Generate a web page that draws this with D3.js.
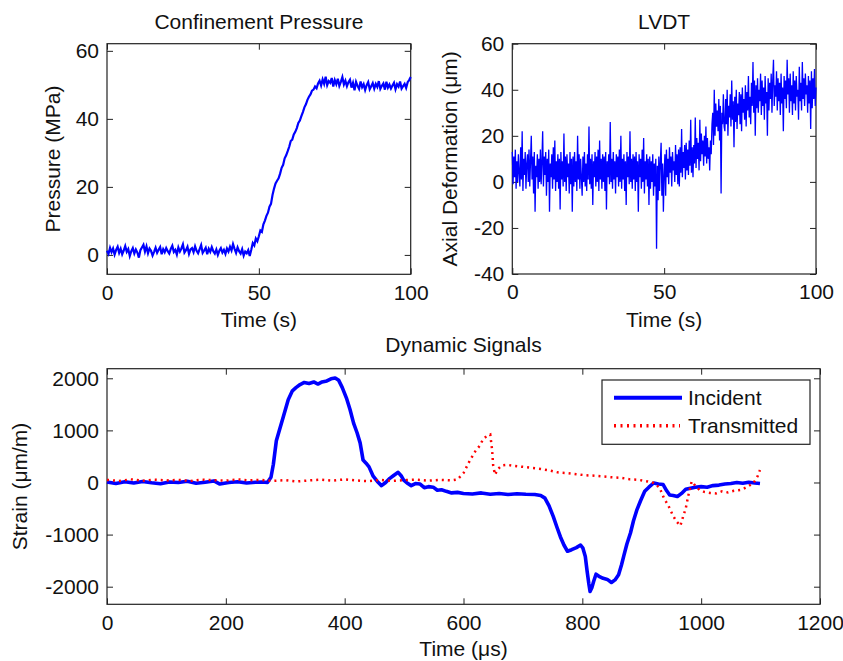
<!DOCTYPE html>
<html>
<head>
<meta charset="utf-8">
<script src="https://cdn.jsdelivr.net/npm/d3@7"></script>
<style>
  body { margin: 0; background: #fff; }
  text { font-family: "Liberation Sans", Arial, sans-serif; fill: #111; }
</style>
</head>
<body>
<div id="chart"></div>
<script>
// pressure sampled every 0.5 s, LVDT every 0.25 s (0..100 s)
const pressureStep = 0.5;
const lvdtStep = 0.25;
const pressure = [
  1.2,0.3,2.1,0.8,1.9,0.1,1.5,2.4,0.6,1.8,0.2,1.3,2.6,0.9,1.7,-0.3,1.1,2.0,0.4,1.6,0.7,
  -0.8,1.4,2.2,3.0,1.0,2.5,0.5,1.9,1.2,-0.2,0.9,2.1,0.6,1.5,2.3,0.2,1.7,0.8,2.0,1.1,
  0.4,1.8,2.7,0.9,1.5,0.1,2.2,1.0,1.9,3.1,0.7,1.4,2.4,0.3,1.6,2.0,0.8,2.5,1.2,0.5,
  1.7,2.9,0.6,1.3,2.1,0.2,1.8,0.9,2.3,1.1,0.4,1.6,0.0,1.2,2.0,0.7,1.5,0.3,1.9,1.0,
  2.4,1.3,3.2,1.8,0.6,2.2,1.1,0.4,1.7,-0.2,1.0,0.5,1.4,-0.3,
  1.5,3.5,2.8,4.8,4.0,5.5,7.2,6.8,9.0,10.1,11.5,12.4,14.2,15.0,17.6,19.5,21.0,21.8,22.5,23.9,
  25.6,26.5,28.4,29.3,30.5,31.8,33.5,33.9,35.4,36.2,37.3,38.8,39.5,40.8,42.0,43.4,44.3,45.6,46.5,47.2,
  48.3,48.6,49.5,49.0,50.4,51.2,
  49.8,51.6,50.3,52.4,49.9,51.1,50.6,52.0,49.5,51.4,50.2,51.8,49.7,50.9,52.3,50.1,51.2,49.6,50.8,51.5,
  49.2,50.6,48.4,50.9,49.7,48.8,51.0,49.3,50.2,48.5,49.9,50.8,48.7,49.6,50.5,48.9,50.3,49.4,51.1,48.8,
  49.7,50.4,48.6,50.9,49.2,50.1,48.9,49.8,50.6,48.7,50.2,49.5,51.0,48.9,49.6,50.3,49.1,50.8,51.4,52.3
];
const lvdt = [
  13,-1,11,2,14,-3,9,0,12,4,-2,15,1,22,-4,10,3,13,-3,8,
  12,0,14,-2,9,20,1,11,-5,13,-13,7,2,12,-3,10,0,14,-1,9,
  22,-2,11,3,13,-6,10,0,14,-13,8,2,12,-3,15,1,18,-4,9,0,
  12,-3,10,-12,13,1,9,-2,21,0,11,-4,12,2,8,-5,13,-1,10,-13,
  11,-2,13,0,9,-4,20,1,12,-3,10,2,-6,11,0,13,-2,8,-4,12,
  1,24,-1,10,-3,12,-10,9,2,13,-2,11,0,14,-4,18,1,10,-3,12,
  0,11,-4,13,-12,9,2,12,-1,26,0,10,-3,13,1,9,-5,12,2,11,
  -2,14,0,20,-3,10,1,12,-4,9,-10,13,2,11,-1,22,0,10,-3,12,
  1,11,-4,13,0,9,-13,12,2,10,-3,14,0,19,-5,9,1,12,-2,10,
  -10,11,-3,9,0,12,-6,8,-2,10,-29,7,-8,11,-4,9,17,-6,8,-13,
  3,12,-6,14,2,10,-1,15,4,11,-2,13,5,9,0,16,3,12,-1,14,
  -2,15,4,23,2,13,6,16,1,17,5,14,3,18,7,27,4,15,2,16,
  8,28,6,19,10,17,5,27,9,21,12,18,7,20,11,24,8,19,10,15,
  5,18,12,25,30,16,40,20,34,24,31,22,36,18,33,-5,30,25,38,24,
  22,36,25,40,20,33,28,38,24,44,27,35,15,37,26,40,23,34,29,39,
  25,38,22,41,30,36,27,42,24,39,31,46,28,37,25,43,33,52,30,44,
  20,42,32,45,30,40,35,47,29,44,33,41,27,46,34,39,20,45,31,43,
  36,47,30,44,53,33,42,37,48,31,45,35,43,29,47,34,41,22,46,36,
  44,32,53,38,45,30,47,35,42,29,48,34,44,31,46,37,40,27,50,35,
  43,31,52,36,45,33,47,38,42,30,46,34,44,23,48,32,45,36,49,33,
  41
];

const incidentTime = [0,15,30,45,60,75,90,105,120,135,150,165,180,190,205,220,235,250,262,270,
  276,280,285,290,297,305,312,318,325,332,340,348,355,362,370,377,384,390,396,403,409,415,421,426,431,436,441,448,455,462,469,476,483,490,495,499,
  505,512,519,527,534,541,549,556,563,571,580,590,600,615,630,645,660,675,690,705,720,730,737,744,751,757,763,769,775,782,790,797,801,805,808,811,813,816,819,823,828,835,842,849,855,861,866,870,875,881,886,892,898,905,912,920,928,936,942,947,953,960,967,974,982,990,1000,1010,1020,1030,1040,1050,1060,1070,1080,1090,1099];
const incidentStrain = [10,-20,15,-10,20,-5,-25,10,0,25,-15,5,30,-30,0,15,-10,5,10,0,
  100,350,800,1000,1270,1590,1760,1820,1880,1920,1900,1930,1890,1930,1950,1990,2005,1960,1820,1620,1400,1140,950,760,430,370,300,120,20,-60,0,80,140,195,130,50,
  -10,-60,-20,-30,-100,-80,-90,-150,-140,-170,-200,-190,-210,-220,-200,-225,-210,-230,-215,-225,-230,-250,-300,-450,-650,-850,-1040,-1200,-1320,-1290,-1250,-1200,-1260,-1420,-1700,-1950,-2090,-2020,-1900,-1760,-1800,-1840,-1860,-1920,-1870,-1770,-1580,-1400,-1180,-970,-740,-520,-350,-170,-90,-10,-30,-40,-160,-240,-250,-270,-210,-130,-110,-90,-80,-90,-60,-50,-30,-20,0,-15,5,-10,-20];

const transTime = [0,20,40,60,80,100,120,140,160,180,200,220,240,260,280,300,320,340,360,380,400,420,440,460,480,500,520,540,560,580,590,
  600,611,620,627,633,640,645,648,650,653,658,665,673,685,700,715,730,745,760,775,790,805,820,835,850,865,880,895,910,920,930,937,945,952,958,965,970,974,978,984,990,997,1005,1015,1025,1035,1045,1055,1068,1078,1088,1095,1099];
const transStrain = [50,30,60,35,55,40,50,30,55,45,35,60,40,50,30,45,20,40,55,35,60,40,25,50,30,45,55,35,50,40,60,
  180,430,600,700,830,900,920,640,320,150,260,330,340,320,300,280,260,230,190,180,160,140,130,115,100,90,60,50,20,-10,-100,-290,-450,-620,-740,-830,-640,-500,-270,20,-60,-140,-180,-200,-210,-170,-190,-160,-140,-80,-10,120,240];

const pressureTicksY = [0, 20, 40, 60];
const lvdtTicksY = [-40, -20, 0, 20, 40, 60];
const secTicks = [0, 50, 100];
const strainTicksY = [-2000, -1000, 0, 1000, 2000];
const usTicks = [0, 200, 400, 600, 800, 1000, 1200];

const W = 843, H = 661;
const fs = 21;
var svg = d3.select("#chart").append("svg")
  .attr("width", W).attr("height", H);

function panel(box, xDom, yDom, xTicks, yTicks, title, xLabel, yLabel, yLabelX, titleY, xLabelY) {
  const x = d3.scaleLinear().domain(xDom).range([box.left, box.right]);
  const y = d3.scaleLinear().domain(yDom).range([box.bottom, box.top]);
  const fmt = (d) => String(d); // plain hyphen minus, no thousands comma

  function style(g) {
    g.select(".domain").remove();
    g.selectAll("line").attr("stroke", "#222");
    g.selectAll("text").attr("font-size", fs).attr("font-family", "Liberation Sans, Arial, sans-serif").attr("fill", "#111");
    g.attr("font-size", null).attr("font-family", null);
  }
  svg.append("g").attr("transform", `translate(0,${box.bottom})`)
    .call(d3.axisBottom(x).tickValues(xTicks).tickSize(-6).tickPadding(10.5).tickFormat(fmt)).call(style);
  svg.append("g").attr("transform", `translate(0,${box.top})`)
    .call(d3.axisTop(x).tickValues(xTicks).tickSize(-6).tickFormat("")).call(style);
  svg.append("g").attr("transform", `translate(${box.left},0)`)
    .call(d3.axisLeft(y).tickValues(yTicks).tickSize(-6).tickPadding(8).tickFormat(fmt)).call(style);
  svg.append("g").attr("transform", `translate(${box.right},0)`)
    .call(d3.axisRight(y).tickValues(yTicks).tickSize(-6).tickFormat("")).call(style);

  svg.append("rect")
    .attr("x", box.left).attr("y", box.top)
    .attr("width", box.right - box.left).attr("height", box.bottom - box.top)
    .attr("fill", "none").attr("stroke", "#222").attr("stroke-width", 1.2);

  svg.append("text").attr("x", (box.left + box.right) / 2).attr("y", titleY)
    .attr("text-anchor", "middle").attr("font-size", fs).text(title);
  svg.append("text").attr("x", (box.left + box.right) / 2).attr("y", xLabelY)
    .attr("text-anchor", "middle").attr("font-size", fs).text(xLabel);
  svg.append("text")
    .attr("transform", `translate(${yLabelX},${(box.top + box.bottom) / 2}) rotate(-90)`)
    .attr("text-anchor", "middle").attr("font-size", fs).text(yLabel);
  return { x: x, y: y };
}

// Confinement Pressure
var p1 = panel({ left: 107, right: 410.7, top: 43.7, bottom: 274.3 }, [0, 100], [-5.7, 62.1],
  secTicks, pressureTicksY, "Confinement Pressure", "Time (s)", "Pressure (MPa)", 60, 29, 327);
svg.append("path").datum(pressure)
  .attr("fill", "none").attr("stroke", "#0000ff").attr("stroke-width", 2.2)
  .attr("d", d3.line().x((d, i) => p1.x(i * pressureStep)).y((d) => p1.y(d)));

// LVDT
var p2 = panel({ left: 512.3, right: 816, top: 43.7, bottom: 274 }, [0, 100], [-40, 60],
  secTicks, lvdtTicksY, "LVDT", "Time (s)", "Axial Deformation (\u03bcm)", 456.5, 29, 327);
svg.append("path").datum(lvdt)
  .attr("fill", "none").attr("stroke", "#0000ff").attr("stroke-width", 1.3)
  .attr("d", d3.line().x((d, i) => p2.x(i * lvdtStep)).y((d) => p2.y(d)));

// Dynamic Signals
var p3 = panel({ left: 107, right: 820, top: 368.7, bottom: 604.3 }, [0, 1200], [-2338, 2184],
  usTicks, strainTicksY, "Dynamic Signals", "Time (\u03bcs)", "Strain (\u03bcm/m)", 26.5, 352, 656);
svg.append("path").datum(incidentTime.map((t, i) => [t, incidentStrain[i]]))
  .attr("fill", "none").attr("stroke", "#0000ff").attr("stroke-width", 3.6)
  .attr("stroke-linejoin", "round")
  .attr("d", d3.line().x((d) => p3.x(d[0])).y((d) => p3.y(d[1])));
svg.append("path").datum(transTime.map((t, i) => [t, transStrain[i]]))
  .attr("fill", "none").attr("stroke", "#ff0000").attr("stroke-width", 2.5)
  .attr("stroke-dasharray", "2,4")
  .attr("d", d3.line().x((d) => p3.x(d[0])).y((d) => p3.y(d[1])));

// legend
var lg = svg.append("g");
lg.append("rect").attr("x", 602).attr("y", 380).attr("width", 208).attr("height", 64.3)
  .attr("fill", "#fff").attr("stroke", "#222").attr("stroke-width", 1.2);
lg.append("line").attr("x1", 614).attr("x2", 682).attr("y1", 397.7).attr("y2", 397.7)
  .attr("stroke", "#0000ff").attr("stroke-width", 4);
lg.append("line").attr("x1", 614).attr("x2", 680).attr("y1", 425.7).attr("y2", 425.7)
  .attr("stroke", "#ff0000").attr("stroke-width", 3.5).attr("stroke-dasharray", "2,4.5");
lg.append("text").attr("x", 688).attr("y", 405).attr("font-size", fs).text("Incident");
lg.append("text").attr("x", 688).attr("y", 433).attr("font-size", fs).text("Transmitted");
</script>
</body>
</html>
